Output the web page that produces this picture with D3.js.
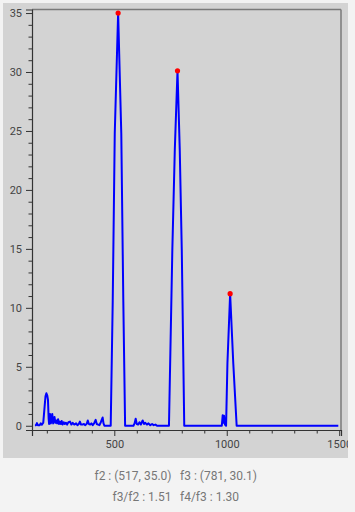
<!DOCTYPE html>
<html>
<head>
<meta charset="utf-8">
<script src="https://cdn.jsdelivr.net/npm/d3@7"></script>
<style>
  html, body { margin: 0; padding: 0; background: #f3f3f3; }
  svg { display: block; font-family: Roboto, "Noto Sans", sans-serif; }
</style>
</head>
<body>
<svg id="chart" width="355" height="512"></svg>
<script>
// ---- data ----
const freq = [147,152,156,160,168,173,178,184,190,194,198,202,205,208,210,214,218,221,224,228,231,234,238,242,246,250,254,258,262,266,270,275,280,285,290,296,303,309,315,322,330,336,342,347,352,358,365,370,377,382,387,393,398,404,410,417,422,428,434,440,448,452,456,480,
  484,493,502,517,531,540,548,
  585,590,595,600,606,612,618,626,632,638,645,652,660,668,675,683,690,
  743,758,769,781,791,800,811,
  978,982,985,988,992,997,1003,1015,1029,1044,1496];
const amp  = [0.05,0.05,0.22,0.05,0.05,0.2,0.08,0.25,1.6,2.5,2.75,2.55,2.2,0.6,0.15,1.0,0.2,0.6,1.0,0.2,0.5,0.75,0.25,0.45,0.2,0.55,0.15,0.35,0.15,0.4,0.1,0.3,0.15,0.25,0.1,0.3,0.35,0.1,0.25,0.1,0.2,0.05,0.15,0.35,0.1,0.1,0.15,0.05,0.15,0.45,0.15,0.1,0.2,0.05,0.2,0.5,0.15,0.1,0.05,0.3,0.7,0.2,0.0,0.0,
  0.0,10.6,24.8,35.0,24.8,10.6,0.0,
  0.0,0.2,0.6,0.15,0.1,0.3,0.1,0.45,0.15,0.25,0.1,0.2,0.05,0.15,0.05,0.1,0.0,
  0.0,14.9,23.4,30.1,23.4,14.9,0.0,
  0.0,0.9,0.25,0.85,0.1,0.0,5.3,11.2,5.3,0.0,0.0];

const peakFreq = [517, 781, 1015];
const peakAmp  = [35.0, 30.1, 11.2];

const xMajorTicks = [500, 1000, 1500];
const xMinorTicks = [200,300,400,600,700,800,900,1100,1200,1300,1400];
const yMajorTicks = [0,5,10,15,20,25,30,35];
const yMinorTicks = d3.range(0, 36).filter(v => v % 5 !== 0);

const infoLeft  = ["f2 : (517, 35.0)", "f3/f2 : 1.51"];
const infoRight = ["f3 : (781, 30.1)", "f4/f3 : 1.30"];

// ---- layout ----
const svg = d3.select("#chart");
const L = 32, R = 341, T = 9.5, B = 430;

const x = d3.scaleLinear().domain([134, 1508]).range([L, R]);
const y = d3.scaleLinear().domain([-0.36, 35.3]).range([B, T]);

svg.append("defs").append("clipPath").attr("id", "panelClip")
  .append("rect").attr("x", 3).attr("y", 3).attr("width", 345).attr("height", 455);

const panel = svg.append("g").attr("clip-path", "url(#panelClip)");
panel.append("rect").attr("x", 3).attr("y", 3).attr("width", 345).attr("height", 455)
  .attr("fill", "#d3d3d3");

// frame top/right
panel.append("line").attr("x1", L).attr("x2", R).attr("y1", T).attr("y2", T)
  .attr("stroke", "#7a7a7a").attr("stroke-width", 1.5);
panel.append("line").attr("x1", R).attr("x2", R).attr("y1", T).attr("y2", B)
  .attr("stroke", "#7a7a7a").attr("stroke-width", 1.5);

// axes
const xAxis = d3.axisBottom(x).tickValues(xMajorTicks).tickSize(6).tickPadding(4).tickFormat(d3.format("d"));
const xMinor = d3.axisBottom(x).tickValues(xMinorTicks).tickSize(3.5).tickFormat("");
const yAxis = d3.axisLeft(y).tickValues(yMajorTicks).tickSize(6).tickPadding(4).tickFormat(d3.format("d"));
const yMinor = d3.axisLeft(y).tickValues(yMinorTicks).tickSize(3.5).tickFormat("");

function styleAxis(g) {
  g.select(".domain").attr("stroke", "#333").attr("stroke-width", 1.2);
  g.selectAll(".tick line").attr("stroke", "#333").attr("stroke-width", 1);
  g.selectAll(".tick text").attr("fill", "#444").attr("font-size", 11)
    .attr("font-family", "Roboto, sans-serif");
}

panel.append("g").attr("transform", `translate(0,${B})`).call(xMinor).call(styleAxis)
  .select(".domain").remove();
panel.append("g").attr("transform", `translate(0,${B})`).call(xAxis).call(styleAxis);
panel.append("g").attr("transform", `translate(${L},0)`).call(yMinor).call(styleAxis)
  .select(".domain").remove();
panel.append("g").attr("transform", `translate(${L},0)`).call(yAxis).call(styleAxis);

// line
const pts = freq.map((f, i) => [f, amp[i]]);
panel.append("path").datum(pts)
  .attr("fill", "none").attr("stroke", "#0000ff").attr("stroke-width", 2)
  .attr("stroke-linejoin", "round")
  .attr("d", d3.line().x(d => x(d[0])).y(d => y(d[1])));

// peak dots
panel.selectAll("circle.peak").data(peakFreq.map((f, i) => [f, peakAmp[i]]))
  .enter().append("circle").attr("class", "peak")
  .attr("cx", d => x(d[0])).attr("cy", d => y(d[1])).attr("r", 2.6)
  .attr("fill", "#ff0000");

// info text
const infoY = [479.5, 500.5];
infoLeft.forEach((t, i) => {
  svg.append("text").attr("x", 171.5).attr("y", infoY[i]).attr("text-anchor", "end")
    .attr("font-size", 12).attr("fill", "#777").text(t);
});
infoRight.forEach((t, i) => {
  svg.append("text").attr("x", 180).attr("y", infoY[i]).attr("text-anchor", "start")
    .attr("font-size", 12).attr("fill", "#777").text(t);
});
</script>
</body>
</html>
